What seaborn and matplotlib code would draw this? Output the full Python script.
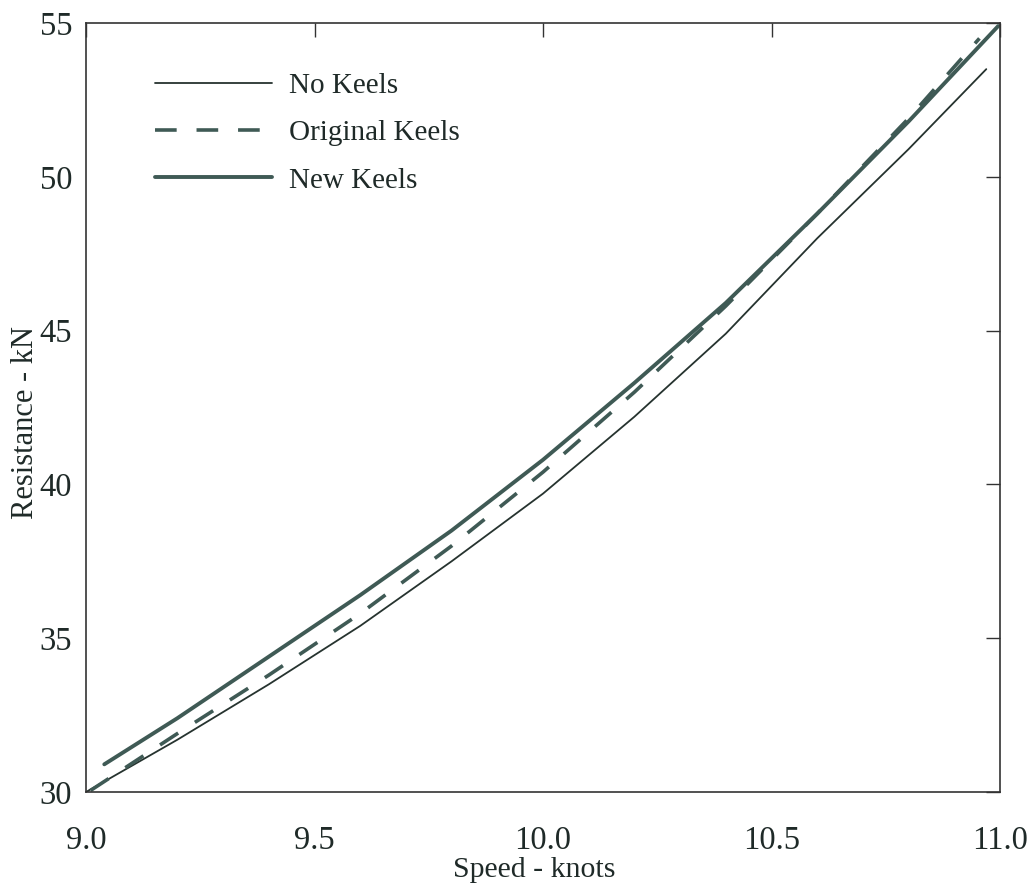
import matplotlib
matplotlib.use("Agg")
import matplotlib.pyplot as plt
import numpy as np
import pandas as pd
import seaborn as sns

# ---- data ----
series_names = ["No Keels", "Original Keels", "New Keels"]

no_keels_speed = [9.0, 9.2, 9.4, 9.6, 9.8, 10.0, 10.2, 10.4, 10.6, 10.8, 10.97]
no_keels_res = [30.0, 31.7, 33.5, 35.4, 37.5, 39.7, 42.2, 44.9, 48.0, 50.9, 53.5]

orig_keels_speed = [9.01, 9.2, 9.4, 9.6, 9.8, 10.0, 10.2, 10.4, 10.6, 10.8, 10.955]
orig_keels_res = [30.05, 31.9, 33.8, 35.8, 38.0, 40.4, 43.0, 45.8, 48.8, 51.9, 54.5]

new_keels_speed = [9.04, 9.2, 9.4, 9.6, 9.8, 10.0, 10.2, 10.4, 10.6, 10.8, 10.996]
new_keels_res = [30.9, 32.4, 34.4, 36.4, 38.5, 40.8, 43.3, 45.9, 48.8, 51.8, 54.9]

x_ticks = [9.0, 9.5, 10.0, 10.5, 11.0]
x_tick_labels = ["9.0", "9.5", "10.0", "10.5", "11.0"]
y_ticks = [30, 35, 40, 45, 50, 55]
y_tick_labels = ["30", "35", "40", "45", "50", "55"]

frames = []
for name, xs, ys in zip(series_names,
                        [no_keels_speed, orig_keels_speed, new_keels_speed],
                        [no_keels_res, orig_keels_res, new_keels_res]):
    frames.append(pd.DataFrame({"Speed": xs, "Resistance": ys, "Series": name}))
df = pd.concat(frames, ignore_index=True)

# ---- style ----
sns.set_theme(style="white")
plt.rcParams["font.family"] = ["Liberation Serif", "DejaVu Serif"]
plt.rcParams["text.color"] = "#1f2a28"
plt.rcParams["axes.labelcolor"] = "#1f2a28"
plt.rcParams["xtick.color"] = "#333333"
plt.rcParams["ytick.color"] = "#333333"
plt.rcParams["xtick.labelcolor"] = "#1f2a28"
plt.rcParams["ytick.labelcolor"] = "#1f2a28"

fig = plt.figure(figsize=(10.35, 8.92), dpi=100)
ax = fig.add_axes([86 / 1035, 1 - 792 / 892, 914 / 1035, 769 / 892])

styles = {
    "No Keels": dict(color="#26332f", linewidth=1.3, linestyle="-"),
    "Original Keels": dict(color="#3f5a55", linewidth=2.6, linestyle=(0, (6, 5.5))),
    "New Keels": dict(color="#3f5a55", linewidth=2.8, linestyle="-"),
}
for name in series_names:
    sub = df[df["Series"] == name]
    sns.lineplot(data=sub, x="Speed", y="Resistance", ax=ax, label=name,
                 sort=True, **styles[name])

ax.set_xlim(9.0, 11.0)
ax.set_ylim(30, 55)
ax.set_xticks(x_ticks)
ax.set_xticklabels(x_tick_labels)
ax.set_yticks(y_ticks)
ax.set_yticklabels(y_tick_labels)
ax.tick_params(axis="both", direction="in", length=10, width=1.0,
               top=True, right=True, labelsize=23.5)
ax.tick_params(axis="x", pad=24)
ax.tick_params(axis="y", pad=10)

for sp in ax.spines.values():
    sp.set_color("#333333")
    sp.set_linewidth(1.2)

ax.set_xlabel("Speed - knots", fontsize=21.5)
ax.set_ylabel("Resistance - kN", fontsize=22)
ax.xaxis.set_label_coords(0.49, -0.085)
ax.yaxis.set_label_coords(-0.050, 0.48)

leg = ax.legend(loc="upper left", bbox_to_anchor=(0.063, 0.951), frameon=False,
                fontsize=21, handlelength=4.0, handletextpad=0.6,
                labelspacing=0.72, borderaxespad=0.0)

fig.savefig("out.png", dpi=100, facecolor="white")
